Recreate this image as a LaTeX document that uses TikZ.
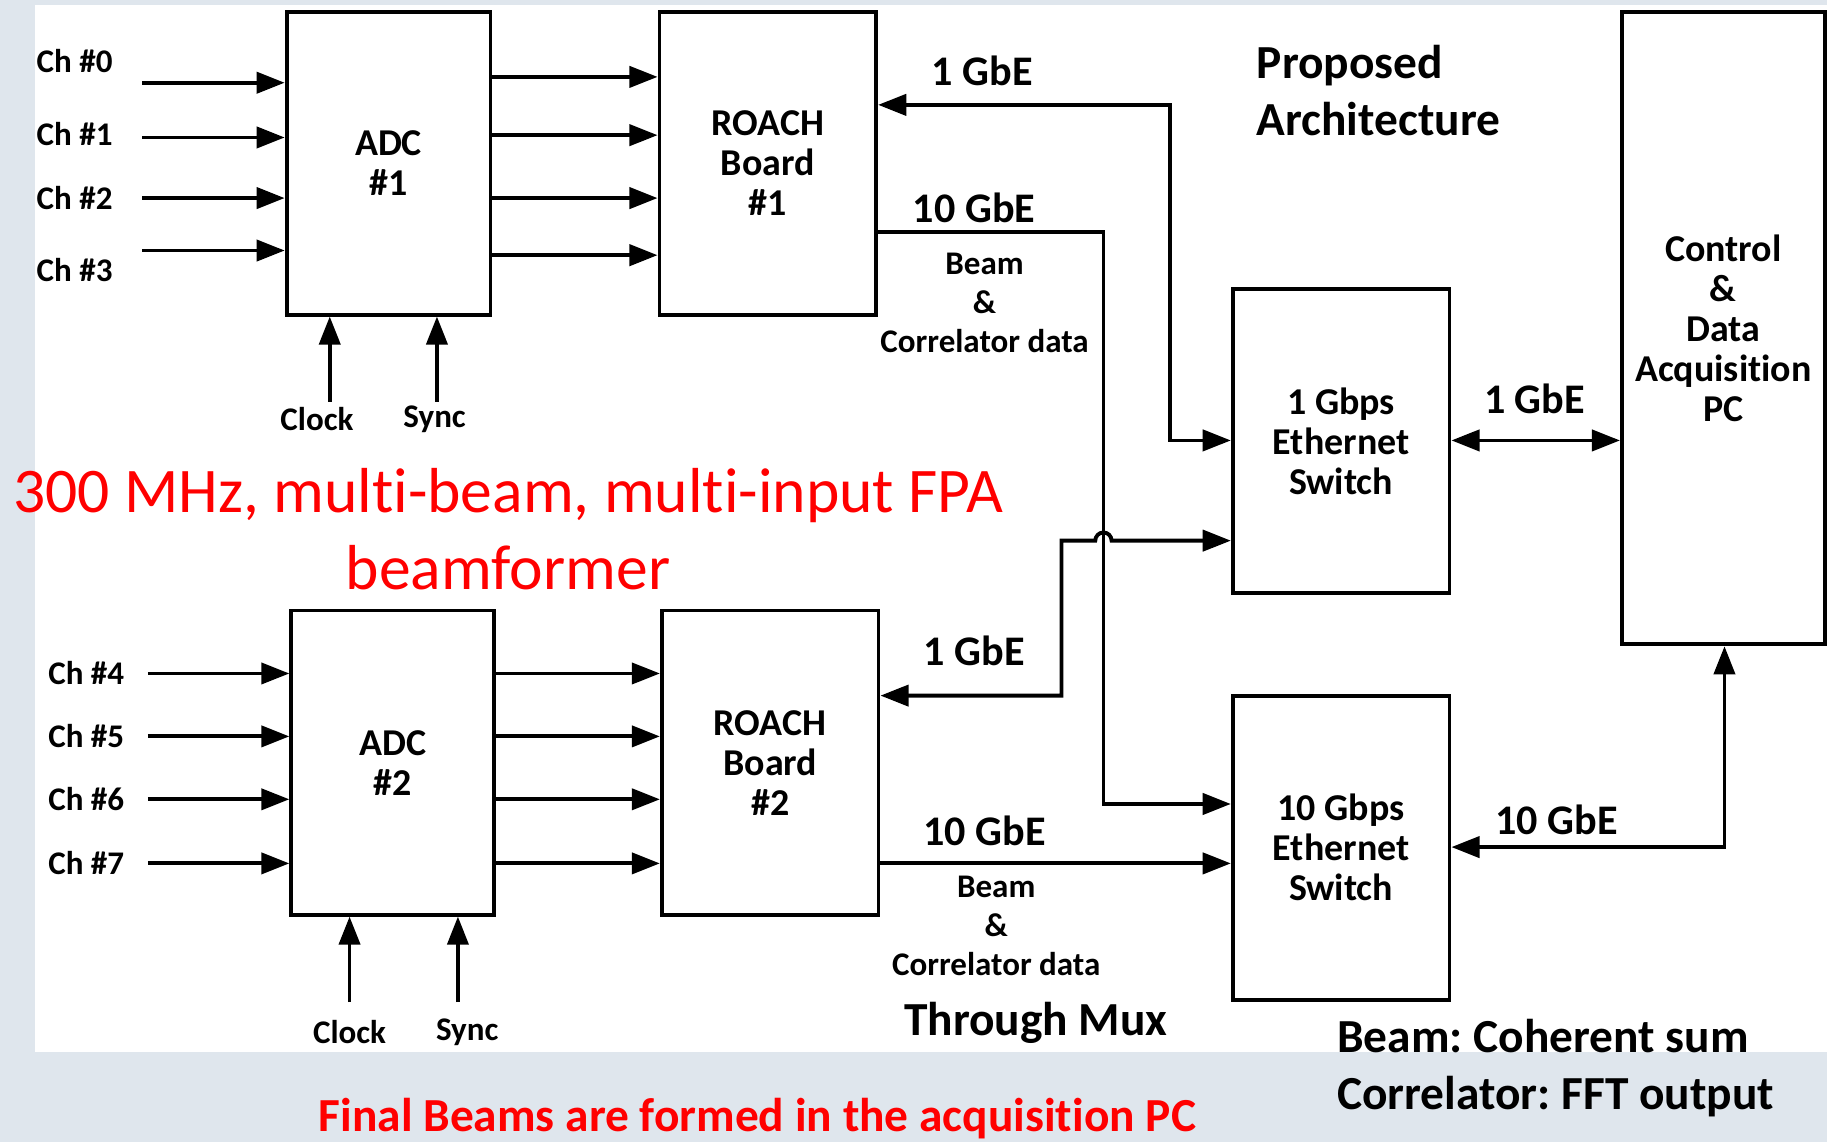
\documentclass[tikz,border=0pt]{standalone}
\usepackage{fontspec}
\setmainfont{Carlito}[Ligatures=NoCommon]
\usepackage{tikz}
\usetikzlibrary{arrows.meta,positioning,calc}
\definecolor{snow}{HTML}{DFE6ED}
\definecolor{alert}{HTML}{FF0000}
\newcommand{\pxu}{0.011652cm}
\frenchspacing

\begin{document}
\begin{tikzpicture}[x=0.011652cm,y=-0.011652cm,
  box/.style={draw,line width=1.1pt,align=center,inner sep=0pt,font=\bfseries\fontsize{10.8}{11.4}\selectfont},
  sig/.style={line width=1.1pt,-{Triangle[length=8pt,width=6pt]}},
  dsig/.style={line width=1.1pt,{Triangle[length=8pt,width=6pt]}-{Triangle[length=8pt,width=6pt]}},
  chlab/.style={inner sep=0pt,font=\bfseries\fontsize{9.4}{11}\selectfont},
  lbl/.style={inner sep=0pt,font=\bfseries\fontsize{12}{14}\selectfont},
  data/.style={inner sep=0pt,align=center,font=\bfseries\fontsize{9.4}{11.1}\selectfont},
  note/.style={inner sep=0pt,align=left,font=\bfseries\fontsize{13.5}{16.3}\selectfont}]
  \useasboundingbox (0,0) rectangle (1568,980);
  \fill[snow] (0,0) rectangle (1568,980);
  \fill[white] (30,4) rectangle (1568,903);

  % blocks
  \node[box,minimum width=175*\pxu,minimum height=260*\pxu] (adcA) at (333.5,140) {ADC\\\#1};
  \node[box,minimum width=186*\pxu,minimum height=260*\pxu] (roachA) at (659,140) {ROACH\\Board\\\#1};
  \node[box,minimum width=174*\pxu,minimum height=261*\pxu] (adcB) at (337,654.5) {ADC\\\#2};
  \node[box,minimum width=186*\pxu,minimum height=261*\pxu] (roachB) at (661,654.5) {ROACH\\Board\\\#2};
  \node[box,minimum width=186*\pxu,minimum height=261*\pxu] (swA) at (1151,378.5) {1 Gbps\\Ethernet\\Switch};
  \node[box,minimum width=186*\pxu,minimum height=261*\pxu] (swB) at (1151,727.5) {10 Gbps\\Ethernet\\Switch};
  \node[box,minimum width=174*\pxu,minimum height=543*\pxu] (pc) at (1479,281.5) {Control\\\&\\Data\\Acquisition\\PC};

  % channel inputs
  \foreach \n/\ly/\ay in {0/52/71,1/115/118,2/170/170,3/232/215}{
    \node[chlab] (ch\n) at (64,\ly) {Ch \#\n};
    \coordinate (in\n) at (122,\ay);
    \draw[sig] (in\n) -- (in\n -| adcA.west);
  }
  \foreach \n/\y in {4/578,5/632,6/686,7/741}{
    \node[chlab] (ch\n) at (74,\y) {Ch \#\n};
    \coordinate (in\n) at (127,\y);
    \draw[sig] (in\n) -- (in\n -| adcB.west);
  }
  \foreach \y in {66,116,170,219}
    \draw[sig] (adcA.east |- 0,\y) -- (roachA.west |- 0,\y);
  \foreach \y in {578,632,686,741}
    \draw[sig] (adcB.east |- 0,\y) -- (roachB.west |- 0,\y);

  % clock and sync
  \node[chlab] (clkA) at (272,360) {Clock};
  \node[chlab] (synA) at (373,360) {Sync};
  \node[chlab] (clkB) at (300,886) {Clock};
  \node[chlab] (synB) at (401,886) {Sync};
  \coordinate (ckA) at (283,345); \coordinate (syA) at (375,345);
  \coordinate (ckB) at (300,860); \coordinate (syB) at (393,860);
  \draw[sig] (ckA) -- (ckA |- adcA.south);
  \draw[sig] (syA) -- (syA |- adcA.south);
  \draw[sig] (ckB) -- (ckB |- adcB.south);
  \draw[sig] (syB) -- (syB |- adcB.south);

  % network links
  \draw[dsig] (roachA.east |- 0,90) -- (1004,90) -- (1004,378) -- (swA.west |- 0,378);
  \draw[sig] (roachA.east |- 0,199) -- (947,199) -- (947,690) -- (swB.west |- 0,690);
  \draw[dsig] (roachB.east |- 0,597) -- (911,597) -- (911,464) -- (940,464)
    arc[start angle=180,end angle=360,radius=7] -- (swA.west |- 0,464);
  \draw[sig] (roachB.east |- 0,741) -- (swB.west |- 0,741);
  \draw[dsig] (swA.east |- 0,378) -- (pc.west |- 0,378);
  \draw[dsig] (swB.east |- 0,727) -- (1480,727) -- (pc.south -| 1480,0);

  \node[lbl] (gA) at (843,61) {1 GbE};
  \node[lbl] (tgA) at (836,178) {10 GbE};
  \node[data] (bcA) at (845,260) {Beam\\\&\\Correlator data};
  \node[lbl] (gB) at (836,559) {1 GbE};
  \node[lbl] (tgB) at (845,713) {10 GbE};
  \node[data] (bcB) at (855,795) {Beam\\\&\\Correlator data};
  \node[lbl] (gC) at (1317,342) {1 GbE};
  \node[lbl] (tgC) at (1336,704) {10 GbE};

  % notes
  \node[note,anchor=west] (arch) at (1078,78) {Proposed\\Architecture};
  \node[inner sep=0pt,align=center,text=alert,font=\fontsize{18.1}{21.9}\selectfont] (title) at (436,454)
    {300 MHz, multi-beam, multi-input FPA\\beamformer};
  \node[note] (mux) at (889,878) {Through Mux};
  \node[note,anchor=west] (legend) at (1147,916.5) {Beam: Coherent sum\\Correlator: FFT output};
  \node[note,text=alert] (final) at (650,960) {Final Beams are formed in the acquisition PC};
\end{tikzpicture}
\end{document}
